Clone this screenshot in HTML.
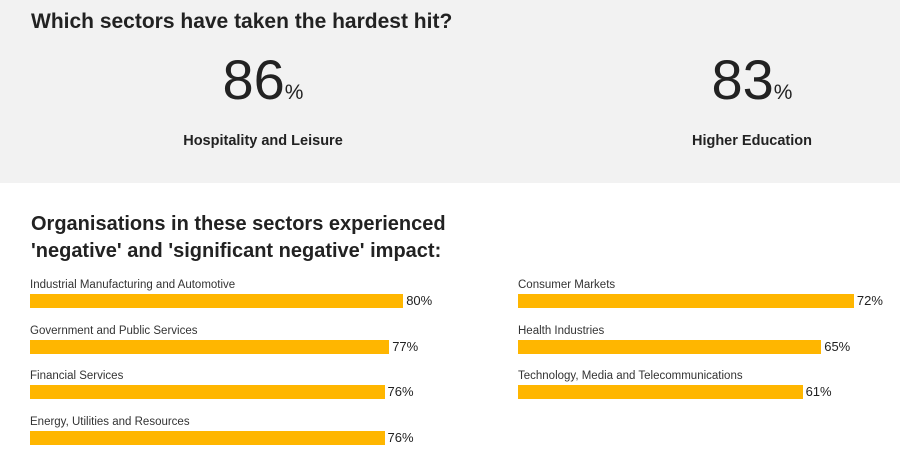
<!DOCTYPE html>
<html><head><meta charset="utf-8"><style>
body{margin:0;width:900px;height:451px;overflow:hidden;background:#fff;font-family:"Liberation Sans",Arial,sans-serif;color:#2d2d2d;position:relative}
.top{position:absolute;left:0;top:0;width:900px;height:183px;background:#f2f2f2}
.abs{position:absolute;white-space:nowrap}
h1{position:absolute;left:31px;top:10px;margin:0;font-size:21px;font-weight:bold;color:#222}
.stat{position:absolute;top:50px;width:300px;text-align:center}
.big{font-size:56px;line-height:60px;color:#222}
.pct{font-size:21px}
.slab{font-size:14.5px;font-weight:bold;margin-top:10px;color:#222}
h2{position:absolute;left:31px;top:211px;margin:0;font-size:20px;line-height:27px;font-weight:bold;color:#222}
.lab{font-size:11.5px;color:#333}
.val{font-size:13px;color:#222}
.bar{position:absolute;height:14px;background:#ffb600}
</style></head><body>
<div class="top"></div>
<h1>Which sectors have taken the hardest hit?</h1>
<div class="stat" style="left:113px"><div class="big">86<span class="pct">%</span></div><div class="slab">Hospitality and Leisure</div></div>
<div class="stat" style="left:602px"><div class="big">83<span class="pct">%</span></div><div class="slab">Higher Education</div></div>
<h2>Organisations in these sectors experienced<br>'negative' and 'significant negative' impact:</h2>
<div id="chart"></div>
<script>
const categories=["Industrial Manufacturing and Automotive","Government and Public Services","Financial Services","Energy, Utilities and Resources","Consumer Markets","Health Industries","Technology, Media and Telecommunications"];
const values=[80,77,76,76,72,65,61];
const columns=[0,0,0,0,1,1,1];
const rows=[0,1,2,3,0,1,2];
const chart=document.getElementById('chart');
const xScale=v=>v*4.665;
const colX=c=>c===0?30:518;
const rowY=r=>294+r*45.6;
for(let i=0;i<values.length;i++){
  const x=colX(columns[i]),y=rowY(rows[i]),w=xScale(values[i]);
  const l=document.createElement('div');l.className='abs lab';
  
  
  l.style.left=x+'px';l.style.top=(y-15)+'px';l.textContent=categories[i];chart.appendChild(l);
  const b=document.createElement('div');b.className='bar';
  
  
  b.style.left=x+'px';b.style.top=y+'px';b.style.width=w+'px';chart.appendChild(b);
  const v=document.createElement('div');v.className='abs val';
  
  
  v.style.left=(x+w+3)+'px';v.style.top=(y-1)+'px';v.textContent=values[i]+'%';chart.appendChild(v);
}
</script>
</body></html>
